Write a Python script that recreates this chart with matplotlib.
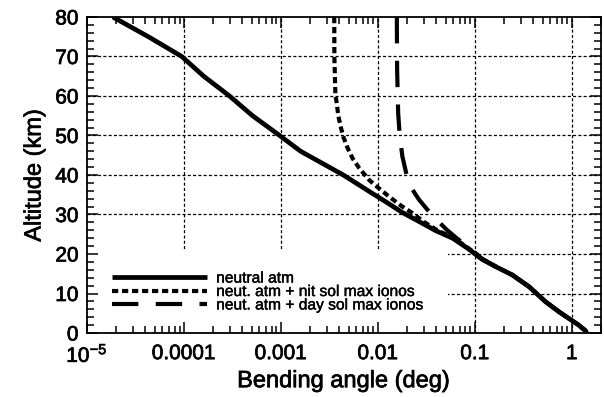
import matplotlib
matplotlib.use("Agg")
import matplotlib.pyplot as plt
import matplotlib.patheffects as pe
from matplotlib.patches import Rectangle
from matplotlib.ticker import LogLocator, MultipleLocator, FixedLocator, NullFormatter

plt.rcParams['font.family'] = ['Liberation Sans', 'DejaVu Sans']
plt.rcParams['lines.scale_dashes'] = False

# Bending angle profiles (altitude in km, bending angle in deg)
neutral_alt = [80, 75, 70, 65, 60, 55, 50, 46, 40, 35.4, 33.2, 30.5, 28.2, 25.9,
               24.0, 21.2, 18.7, 16.8, 14.7, 11.7, 7.9, 5.4, 3.7, 2.0, 0.6, 0]
neutral_bend = [1.85e-5, 4.3e-5, 9.5e-5, 1.6e-4, 2.95e-4, 5.1e-4, 9.7e-4, 1.6e-3,
                4.4e-3, 8.7e-3, 0.0121, 0.0179, 0.0267, 0.0395, 0.059, 0.087,
                0.118, 0.164, 0.243, 0.363, 0.537, 0.735, 0.93, 1.18, 1.38, 1.42]

night_alt = [80, 70, 60, 58.9, 54.8, 51.9, 49.7, 46.8, 44.2, 41.7, 38.7, 36.6,
             34.5, 32.2, 30.4, 28.1, 26.0, 24.0, 21.2, 18.7, 16.8, 14.7, 11.7,
             7.9, 5.4, 3.7, 2.0, 0.6, 0]
night_bend = [0.00355, 0.00356, 0.00365, 0.00373, 0.00392, 0.00417, 0.0044,
              0.00488, 0.00549, 0.00644, 0.00816, 0.0103, 0.0131, 0.0174, 0.0226,
              0.030, 0.041, 0.061, 0.089, 0.12, 0.165, 0.244, 0.364, 0.538,
              0.736, 0.93, 1.18, 1.38, 1.42]

day_alt = [80, 77.6, 66.6, 55.6, 50, 44.7, 40, 37.0, 35.4, 33.7, 31.2, 28.5,
           26.0, 24.0, 22.0, 20.0, 18.7, 16.8, 14.7, 11.7, 7.9, 5.4, 3.7, 2.0,
           0.6, 0]
day_bend = [0.0157, 0.0157, 0.0158, 0.0162, 0.0168, 0.0179, 0.0198, 0.0219,
            0.0240, 0.0267, 0.0325, 0.041, 0.052, 0.065, 0.083, 0.104, 0.12,
            0.165, 0.244, 0.364, 0.538, 0.736, 0.93, 1.18, 1.38, 1.42]

series_labels = ["neutral atm",
                 "neut. atm + nit sol max ionos",
                 "neut. atm + day sol max ionos"]

x_major = [1e-5, 1e-4, 1e-3, 1e-2, 1e-1, 1]
x_major_labels = [r"$\mathregular{10^{-5}}$", "0.0001", "0.001", "0.01", "0.1", "1"]
y_major = [0, 10, 20, 30, 40, 50, 60, 70, 80]

heavy = [pe.withStroke(linewidth=0.5, foreground='black')]

fig = plt.figure(figsize=(6.04, 3.97), dpi=100)
ax = fig.add_axes([0.1440, 0.1612, 0.8510, 0.7960])

ax.set_xscale('log')
ax.set_xlim(1e-5, 2)
ax.set_ylim(0, 80)

# dotted grid at major ticks (drawn under the legend panel)
grid_style = dict(color='black', lw=0.9, ls=(0, (2.2, 1.6)), zorder=0.5)
for v in x_major[1:]:
    ax.axvline(v, **grid_style)
for v in y_major[1:-1]:
    ax.axhline(v, **grid_style)

# blank panel behind the legend
ax.add_patch(Rectangle((0, 0), 0.702, 0.263, transform=ax.transAxes,
                       facecolor='white', edgecolor='none', zorder=0.8))

ax.plot(neutral_bend, neutral_alt, color='black', lw=3.4, ls='-',
        solid_capstyle='butt', label=series_labels[0], zorder=2)
ax.plot(night_bend, night_alt, color='black', lw=3.0, ls=(0, (4.5, 2.7)),
        label=series_labels[1], zorder=2)
ax.plot(day_bend, day_alt, color='black', lw=3.0, ls=(0, (19, 12.5)),
        label=series_labels[2], zorder=2)

ax.xaxis.set_major_locator(FixedLocator(x_major))
ax.set_xticklabels(x_major_labels)
ax.xaxis.set_minor_locator(LogLocator(base=10, subs=range(2, 10)))
ax.xaxis.set_minor_formatter(NullFormatter())
ax.yaxis.set_major_locator(FixedLocator(y_major))
ax.yaxis.set_minor_locator(MultipleLocator(2))

ax.tick_params(which='both', direction='in', top=True, right=True,
               width=1.1, labelsize=15, colors='black')
ax.tick_params(axis='x', which='major', length=8, pad=8)
ax.tick_params(axis='y', which='major', length=8, pad=6)
ax.tick_params(which='minor', length=5)
for s in ax.spines.values():
    s.set_linewidth(1.3)
for t in ax.get_xticklabels() + ax.get_yticklabels():
    t.set_path_effects(heavy)

xl = ax.set_xlabel("Bending angle (deg)", fontsize=17, labelpad=3)
yl = ax.set_ylabel("Altitude (km)", fontsize=17, labelpad=7)
xl.set_path_effects(heavy)
yl.set_path_effects(heavy)

leg = ax.legend(loc='lower left', bbox_to_anchor=(0.0486, 0.065), borderaxespad=0,
                borderpad=0, frameon=False, fontsize=11.2, handlelength=6.1,
                handletextpad=0.6, labelspacing=-0.1)
for t in leg.get_texts():
    t.set_path_effects([pe.withStroke(linewidth=0.3, foreground='black')])

fig.savefig("out.png", dpi=100)
